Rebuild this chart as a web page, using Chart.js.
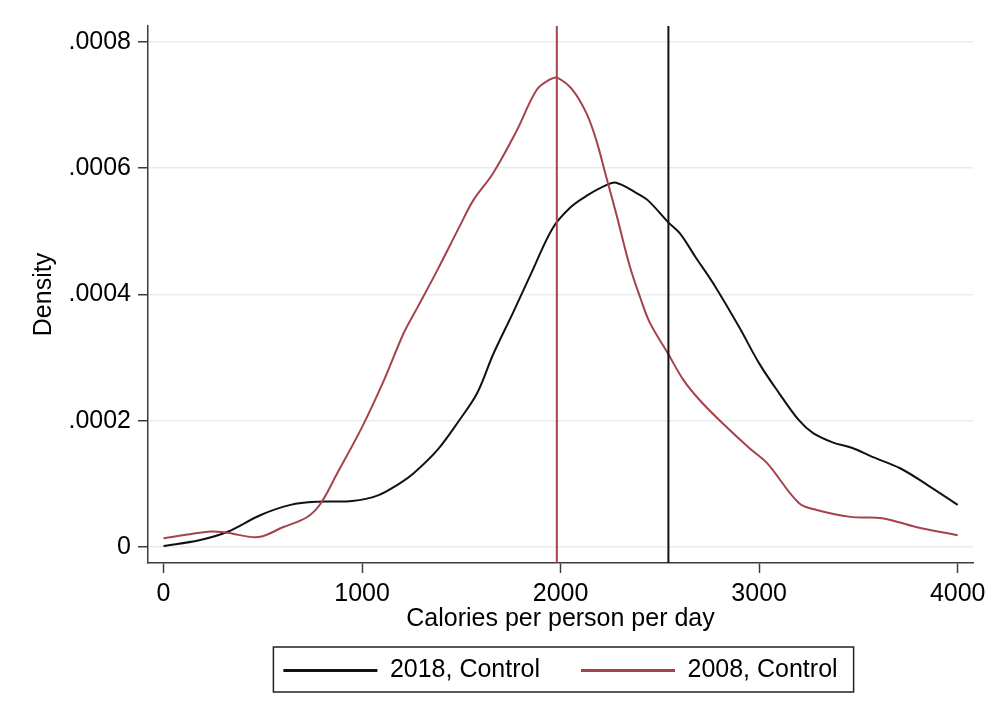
<!DOCTYPE html>
<html>
<head>
<meta charset="utf-8">
<script src="https://cdn.jsdelivr.net/npm/chart.js@4.4.1/dist/chart.umd.min.js"></script>
<style>
    html, body { margin: 0; padding: 0; background: #fff; }
    #wrap { width: 998px; height: 725px; }
</style>
</head>
<body>
<div id="wrap"><canvas id="densityChart" width="998" height="725"></canvas></div>
<script>
// Kernel density, 2018 control group
const calories2018 = [0, 180, 320, 490, 640, 780, 950, 1080, 1190, 1260, 1380, 1490, 1580, 1660, 1760, 1860, 1960, 2050, 2130, 2230, 2280, 2380, 2440, 2540, 2600, 2680, 2780, 2900, 3000, 3100, 3200, 3270, 3370, 3470, 3570, 3710, 3850, 4000];
const density2018 = [0.000002, 0.000011, 0.000024, 0.000051, 0.000067, 0.000072, 0.000073, 0.000082, 0.000101, 0.000117, 0.000154, 0.000201, 0.000244, 0.000305, 0.000371, 0.000439, 0.000505, 0.000538, 0.000556, 0.000573, 0.000577, 0.000561, 0.000549, 0.000515, 0.000497, 0.000459, 0.000412, 0.000348, 0.000291, 0.000244, 0.000201, 0.000181, 0.000166, 0.000157, 0.000143, 0.000125, 0.000098, 0.000067];

// Kernel density, 2008 control group
const calories2008 = [0, 120, 240, 320, 478, 604, 720, 789, 875, 1000, 1110, 1210, 1280, 1380, 1490, 1560, 1660, 1780, 1880, 1950, 1985, 2060, 2130, 2180, 2230, 2280, 2350, 2400, 2450, 2540, 2620, 2700, 2800, 2950, 3040, 3200, 3290, 3460, 3620, 3790, 4000];
const density2008 = [0.000014, 0.000020, 0.000025, 0.000023, 0.000016, 0.000032, 0.000047, 0.000068, 0.000117, 0.000190, 0.000264, 0.000339, 0.000380, 0.000439, 0.000507, 0.000549, 0.000592, 0.000660, 0.000724, 0.000741, 0.000743, 0.000724, 0.000687, 0.000644, 0.000586, 0.000528, 0.000443, 0.000396, 0.000355, 0.000307, 0.000264, 0.000233, 0.000201, 0.000157, 0.000133, 0.000070, 0.000059, 0.000048, 0.000046, 0.000032, 0.000019];

// Group means (vertical lines)
const mean2018 = 2543;
const mean2008 = 1981;

const seriesLabels = ['2018, Control', '2008, Control'];

const xTickValues = [0, 1000, 2000, 3000, 4000];
const xTickLabels = ['0', '1000', '2000', '3000', '4000'];
const yTickValues = [0, 0.0002, 0.0004, 0.0006, 0.0008];
const yTickLabels = ['0', '.0002', '.0004', '.0006', '.0008'];

const xMin = -78, xMax = 4077;
const yMin = -0.000025, yMax = 0.000825;

const BLACK = '#111111';
const RED = '#a4434b';
const AXIS = '#3c3c3c';
const GRID = '#e4edf0';

function toPoints(xs, ys) {
    return xs.map((x, i) => ({ x: x, y: ys[i] }));
}

function meanLine(x) {
    return [{ x: x, y: yMin }, { x: x, y: yMax }];
}

// Stata-style frame around the legend row
const legendFrame = {
    id: 'legendFrame',
    afterDraw(chart) {
        const boxes = chart.legend && chart.legend.legendHitBoxes;
        if (!boxes || !boxes.length) return;
        const first = boxes[0];
        const last = boxes[boxes.length - 1];
        const left = first.left - 10;
        const right = last.left + last.width + 16;
        const top = first.top - 11;
        const bottom = first.top + first.height + 9;
        const ctx = chart.ctx;
        ctx.save();
        ctx.strokeStyle = '#222';
        ctx.lineWidth = 1.5;
        ctx.strokeRect(left, top, right - left, bottom - top);
        ctx.restore();
    }
};

function createDensityChart() {
    const canvas = document.getElementById('densityChart');
    if (!canvas) return null;

    Chart.defaults.font.family = "'Liberation Sans', Arial, sans-serif";
    Chart.defaults.font.size = 25;
    Chart.defaults.color = '#000';

    return new Chart(canvas, {
        type: 'line',
        data: {
            datasets: [
                {
                    label: seriesLabels[0],
                    data: toPoints(calories2018, density2018),
                    borderColor: BLACK,
                    backgroundColor: BLACK,
                    borderWidth: 2,
                    pointRadius: 0,
                    tension: 0.35,
                    borderJoinStyle: 'round',
                    order: 4
                },
                {
                    label: seriesLabels[1],
                    data: toPoints(calories2008, density2008),
                    borderColor: RED,
                    backgroundColor: RED,
                    borderWidth: 2,
                    pointRadius: 0,
                    tension: 0.35,
                    borderJoinStyle: 'round',
                    order: 3
                },
                {
                    label: 'mean2018',
                    data: meanLine(mean2018),
                    borderColor: BLACK,
                    borderWidth: 2,
                    pointRadius: 0,
                    tension: 0,
                    order: 2
                },
                {
                    label: 'mean2008',
                    data: meanLine(mean2008),
                    borderColor: RED,
                    borderWidth: 2,
                    pointRadius: 0,
                    tension: 0,
                    order: 1
                }
            ]
        },
        options: {
            responsive: false,
            animation: false,
            devicePixelRatio: 1,
            layout: {
                padding: { left: 22, right: 25, top: 26, bottom: 32 }
            },
            scales: {
                x: {
                    type: 'linear',
                    min: xMin,
                    max: xMax,
                    afterBuildTicks: (scale) => {
                        scale.ticks = xTickValues.map(v => ({ value: v }));
                    },
                    afterFit: (scale) => { scale.height = 54; },
                    ticks: {
                        autoSkip: false,
                        maxRotation: 0,
                        padding: 6,
                        callback: (value) => xTickLabels[xTickValues.indexOf(value)]
                    },
                    grid: {
                        drawOnChartArea: false,
                        drawTicks: true,
                        tickLength: 10,
                        tickColor: AXIS,
                        tickWidth: 1.5
                    },
                    border: { color: AXIS, width: 1.5 },
                    title: {
                        display: true,
                        text: 'Calories per person per day',
                        font: { size: 25, lineHeight: 1 },
                        padding: { top: 0, bottom: -15 }
                    }
                },
                y: {
                    type: 'linear',
                    min: yMin,
                    max: yMax,
                    afterBuildTicks: (scale) => {
                        scale.ticks = yTickValues.map(v => ({ value: v }));
                    },
                    afterFit: (scale) => { scale.width = 126; },
                    ticks: {
                        autoSkip: false,
                        padding: 7,
                        callback: (value) => yTickLabels[yTickValues.indexOf(value)]
                    },
                    grid: {
                        color: GRID,
                        lineWidth: 1.5,
                        drawTicks: true,
                        tickLength: 10,
                        tickColor: AXIS,
                        tickWidth: 1.5
                    },
                    border: { color: AXIS, width: 1.5 },
                    title: {
                        display: true,
                        text: 'Density',
                        font: { size: 25, lineHeight: 1 },
                        padding: { top: 10, bottom: 0 }
                    }
                }
            },
            plugins: {
                legend: {
                    position: 'bottom',
                    fullSize: false,
                    labels: {
                        boxWidth: 94,
                        boxHeight: 3,
                        padding: 41,
                        font: { size: 25 },
                        sort: (a, b) => a.datasetIndex - b.datasetIndex,
                        generateLabels: (chart) => {
                            const items = Chart.defaults.plugins.legend.labels.generateLabels(chart);
                            return items
                                .filter(item => item.datasetIndex < 2)
                                .map(item => ({ ...item, lineWidth: 0 }));
                        }
                    }
                },
                tooltip: { enabled: false }
            }
        },
        plugins: [legendFrame]
    });
}

createDensityChart();
</script>
</body>
</html>
